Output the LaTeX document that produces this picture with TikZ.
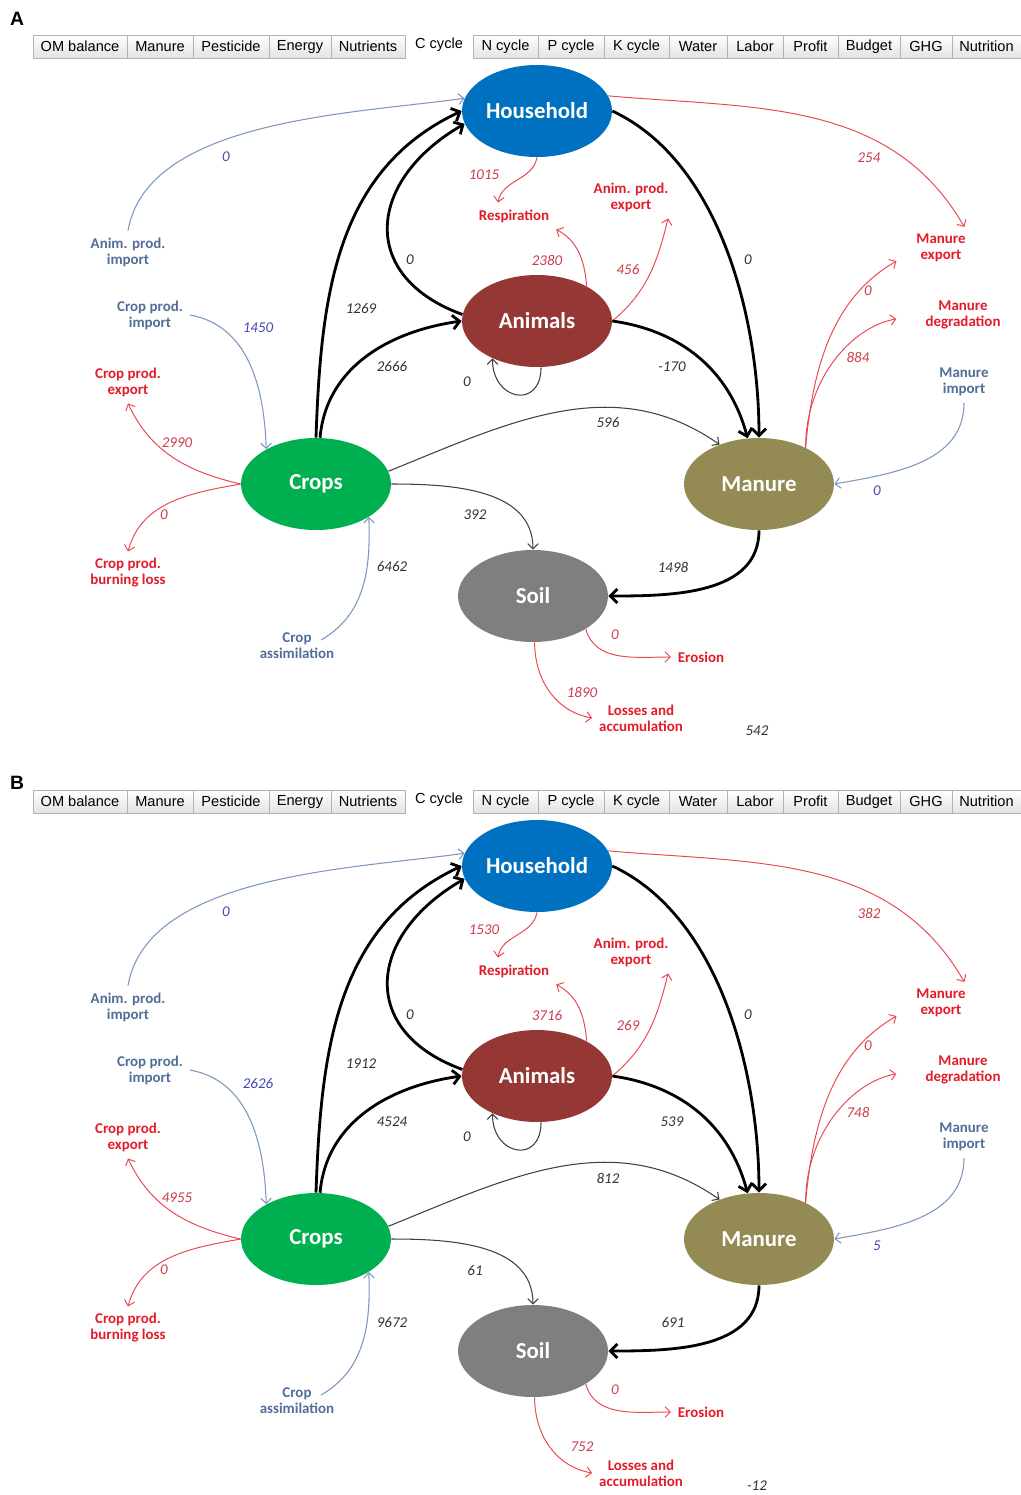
\documentclass[tikz,border=0pt]{standalone}
\usepackage{fontspec}
\setmainfont{Carlito}
\newfontfamily\tabfont{Liberation Sans}
\usetikzlibrary{arrows.meta,shapes.geometric}

\definecolor{hhblue}{RGB}{0,112,192}
\definecolor{anred}{RGB}{149,55,53}
\definecolor{crgreen}{RGB}{0,176,80}
\definecolor{mnolive}{RGB}{148,138,84}
\definecolor{sogray}{RGB}{127,127,127}
\definecolor{outred}{RGB}{226,28,40}
\definecolor{linered}{RGB}{232,72,80}
\definecolor{inblue}{RGB}{82,110,150}
\definecolor{lineblue}{RGB}{125,150,190}
\definecolor{numblue}{RGB}{70,70,180}
\definecolor{numred}{RGB}{205,60,75}
\definecolor{numblack}{RGB}{50,50,50}

% flow values of one panel
\pgfkeys{/cyc/.cd,
  aimp/.initial=0, cimp/.initial=0, cexp/.initial=0, cburn/.initial=0,
  cass/.initial=0, crhh/.initial=0, cran/.initial=0, anhh/.initial=0,
  anan/.initial=0, hhresp/.initial=0, anresp/.initial=0, anexp/.initial=0,
  hhmn/.initial=0, anmn/.initial=0, hhmexp/.initial=0, mnmexp/.initial=0,
  mndeg/.initial=0, mimp/.initial=0, crmn/.initial=0, crso/.initial=0,
  mnso/.initial=0, soero/.initial=0, soloss/.initial=0, bal/.initial=0}
\newcommand{\cv}[1]{\pgfkeysvalueof{/cyc/#1}}

% one C cycle panel: #1 name prefix, #2 vertical shift, #3 values
\newcommand{\cyclepanel}[3]{%
  \pgfkeys{/cyc/.cd,#3}%
  \begin{scope}[shift={(0,#2)}, name prefix=#1-]
    % tab bar
    \foreach \l/\r/\t in {33/127/OM balance, 127/193/Manure, 193/269/Pesticide,
        269/331/Energy, 331/405/Nutrients, 473/538/N cycle, 538/604/P cycle,
        604/669/K cycle, 669/727/Water, 727/783/Labor, 783/838/Profit,
        838/900/Budget, 900/952/GHG, 952/1021/Nutrition}
      \node[tab, minimum width={(\r-\l)*0.02cm}] (tab\l) at ({(\l+\r)/2},-46.5) {\t};
    \node[tabtxt] (tabsel) at (439,-45) {C cycle};
    % stocks
    \node[stock, fill=hhblue] (hh) at (537,-111) {Household};
    \node[stock, fill=anred] (an) at (537,-321) {Animals};
    \node[stock, fill=crgreen] (cr) at (316,-484) {Crops};
    \node[stock, fill=mnolive] (mn) at (759,-484) {Manure};
    \node[stock, fill=sogray] (so) at (533,-596) {Soil};
    % imports and exports
    \node[inlbl] (aimp) at (128,-252) {Anim. prod.\\import};
    \node[inlbl] (cimp) at (150,-315) {Crop prod.\\import};
    \node[outlbl] (cexp) at (128,-382) {Crop prod.\\export};
    \node[outlbl] (cburn) at (128,-573) {Crop prod.\\burning loss};
    \node[inlbl] (cass) at (297,-646) {Crop\\assimilation};
    \node[outlbl] (resp) at (514,-216) {Respiration};
    \node[outlbl] (aexp) at (631,-197) {Anim. prod.\\export};
    \node[outlbl] (mexp) at (941,-248) {Manure\\export};
    \node[outlbl] (mdeg) at (963,-315) {Manure\\degradation};
    \node[inlbl] (mimp) at (964,-382) {Manure\\import};
    \node[outlbl] (ero) at (701,-657) {Erosion};
    \node[outlbl] (loss) at (641,-718) {Losses and\\accumulation};
    % flows
    \draw[inflow] (aimp.north) to[out=80,in=188,looseness=0.8] (hh.170);
    \draw[inflow] (cimp.east) to[out=-10,in=92] (cr.145);
    \draw[outflow] (cr.west) to[out=167,in=-65] (cexp.south);
    \draw[outflow] (cr.west) to[out=190,in=75] (cburn.north);
    \draw[inflow] ([shift={(24,-14)}]cass.north) to[out=30,in=-88] (cr.-32);
    \draw[bigflow] (cr.north) to[out=88,in=205] (hh.180);
    \draw[bigflow] (cr.85) to[out=85,in=188] (an.180);
    \draw[bigflow] (an.175) to[out=160,in=210,looseness=1.5] (hh.190);
    \draw[smallflow] (an.-85) to[out=-90,in=-90,looseness=2.2] (an.-140);
    \draw[outflow] (hh.-90) to[out=-100,in=80] (resp.140);
    \draw[outflow] (an.35) to[out=95,in=-28] (resp.south east);
    \draw[outflow] (an.0) to[out=40,in=-104] (aexp.-30);
    \draw[bigflow] (hh.0) to[out=-25,in=90,looseness=0.85] (mn.north);
    \draw[bigflow] (an.0) to[out=-8,in=105] (mn.104);
    \draw[outflow] (hh.12) to[out=-5,in=120] (mexp.42);
    \draw[outflow, shorten >=0.3cm] (mn.38) to[out=85,in=210] (mexp.190);
    \draw[outflow, shorten >=0.45cm] (mn.38) to[out=90,in=190] (mdeg.west);
    \draw[inflow] (mimp.south) to[out=-90,in=10] (mn.east);
    \draw[smallflow] (cr.10) to[out=22,in=145] (mn.135);
    \draw[smallflow] (cr.east) to[out=0,in=90] (so.north);
    \draw[bigflow] (mn.south) to[out=-90,in=0] (so.east);
    \draw[outflow] (so.-32) to[out=-75,in=180] (ero.west);
    \draw[outflow] (so.-88) to[out=-90,in=170] (loss.west);
    % flow values
    \node[num, text=numblue] (l-aimp) at (226,-157) {\cv{aimp}};
    \node[num, text=numblue] (l-cimp) at (258,-328) {\cv{cimp}};
    \node[num, text=numred] (l-cexp) at (177,-443) {\cv{cexp}};
    \node[num, text=numred] (l-cburn) at (164,-515) {\cv{cburn}};
    \node[num] (l-cass) at (392,-567) {\cv{cass}};
    \node[num] (l-crhh) at (361,-309) {\cv{crhh}};
    \node[num] (l-cran) at (392,-367) {\cv{cran}};
    \node[num] (l-anhh) at (410,-260) {\cv{anhh}};
    \node[num] (l-anan) at (467,-382) {\cv{anan}};
    \node[num, text=numred] (l-hhresp) at (484,-175) {\cv{hhresp}};
    \node[num, text=numred] (l-anresp) at (547,-260) {\cv{anresp}};
    \node[num, text=numred] (l-anexp) at (628,-270) {\cv{anexp}};
    \node[num] (l-hhmn) at (748,-260) {\cv{hhmn}};
    \node[num] (l-anmn) at (672,-367) {\cv{anmn}};
    \node[num, text=numred] (l-hhmexp) at (869,-158) {\cv{hhmexp}};
    \node[num, text=numred] (l-mnmexp) at (868,-291) {\cv{mnmexp}};
    \node[num, text=numred] (l-mndeg) at (858,-357) {\cv{mndeg}};
    \node[num, text=numblue] (l-mimp) at (877,-491) {\cv{mimp}};
    \node[num] (l-crmn) at (608,-423) {\cv{crmn}};
    \node[num] (l-crso) at (475,-515) {\cv{crso}};
    \node[num] (l-mnso) at (673,-567) {\cv{mnso}};
    \node[num, text=numred] (l-soero) at (615,-635) {\cv{soero}};
    \node[num, text=numred] (l-soloss) at (582,-692) {\cv{soloss}};
    \node[num] (l-bal) at (757,-731) {\cv{bal}};
  \end{scope}}

\begin{document}
\begin{tikzpicture}[
  x=0.02cm, y=0.02cm,
  stock/.style={ellipse, minimum width=3cm, minimum height=1.84cm, inner sep=0pt,
    text=white, font=\fontsize{13}{15}\selectfont\bfseries},
  outlbl/.style={align=center, text=outred, inner sep=1pt, outer sep=3pt,
    font=\fontsize{8.5}{9.1}\selectfont\bfseries},
  inlbl/.style={outlbl, text=inblue},
  num/.style={text=numblack, inner sep=1pt, font=\fontsize{8.5}{10}\selectfont\itshape},
  bigflow/.style={line width=1.6pt, -{Straight Barb[length=4pt,width=8pt]}},
  smallflow/.style={draw=black!75, line width=0.6pt, -{Straight Barb[length=3pt,width=6pt]}},
  outflow/.style={draw=linered, line width=0.55pt, -{Straight Barb[length=3pt,width=6pt]}},
  inflow/.style={draw=lineblue, line width=0.6pt, -{Straight Barb[length=3pt,width=6pt]}},
  tabtxt/.style={inner sep=0pt, font=\tabfont\fontsize{8.3}{10}\selectfont},
  tab/.style={tabtxt, draw=gray!60, top color=white, bottom color=gray!22,
    minimum height=0.46cm},
  panellbl/.style={font=\tabfont\bfseries\fontsize{11}{13}\selectfont},
]
  \path[use as bounding box, fill=white] (0,0) rectangle (1021,-1495);
  \node[panellbl] (lblA) at (17,-19) {A};
  \node[panellbl] (lblB) at (17,-783) {B};
  \cyclepanel{A}{0}{aimp=0, cimp=1450, cexp=2990, cburn=0, cass=6462,
    crhh=1269, cran=2666, anhh=0, anan=0, hhresp=1015, anresp=2380, anexp=456,
    hhmn=0, anmn=-170, hhmexp=254, mnmexp=0, mndeg=884, mimp=0, crmn=596,
    crso=392, mnso=1498, soero=0, soloss=1890, bal=542}
  \cyclepanel{B}{-755}{aimp=0, cimp=2626, cexp=4955, cburn=0, cass=9672,
    crhh=1912, cran=4524, anhh=0, anan=0, hhresp=1530, anresp=3716, anexp=269,
    hhmn=0, anmn=539, hhmexp=382, mnmexp=0, mndeg=748, mimp=5, crmn=812,
    crso=61, mnso=691, soero=0, soloss=752, bal=-12}
\end{tikzpicture}
\end{document}
